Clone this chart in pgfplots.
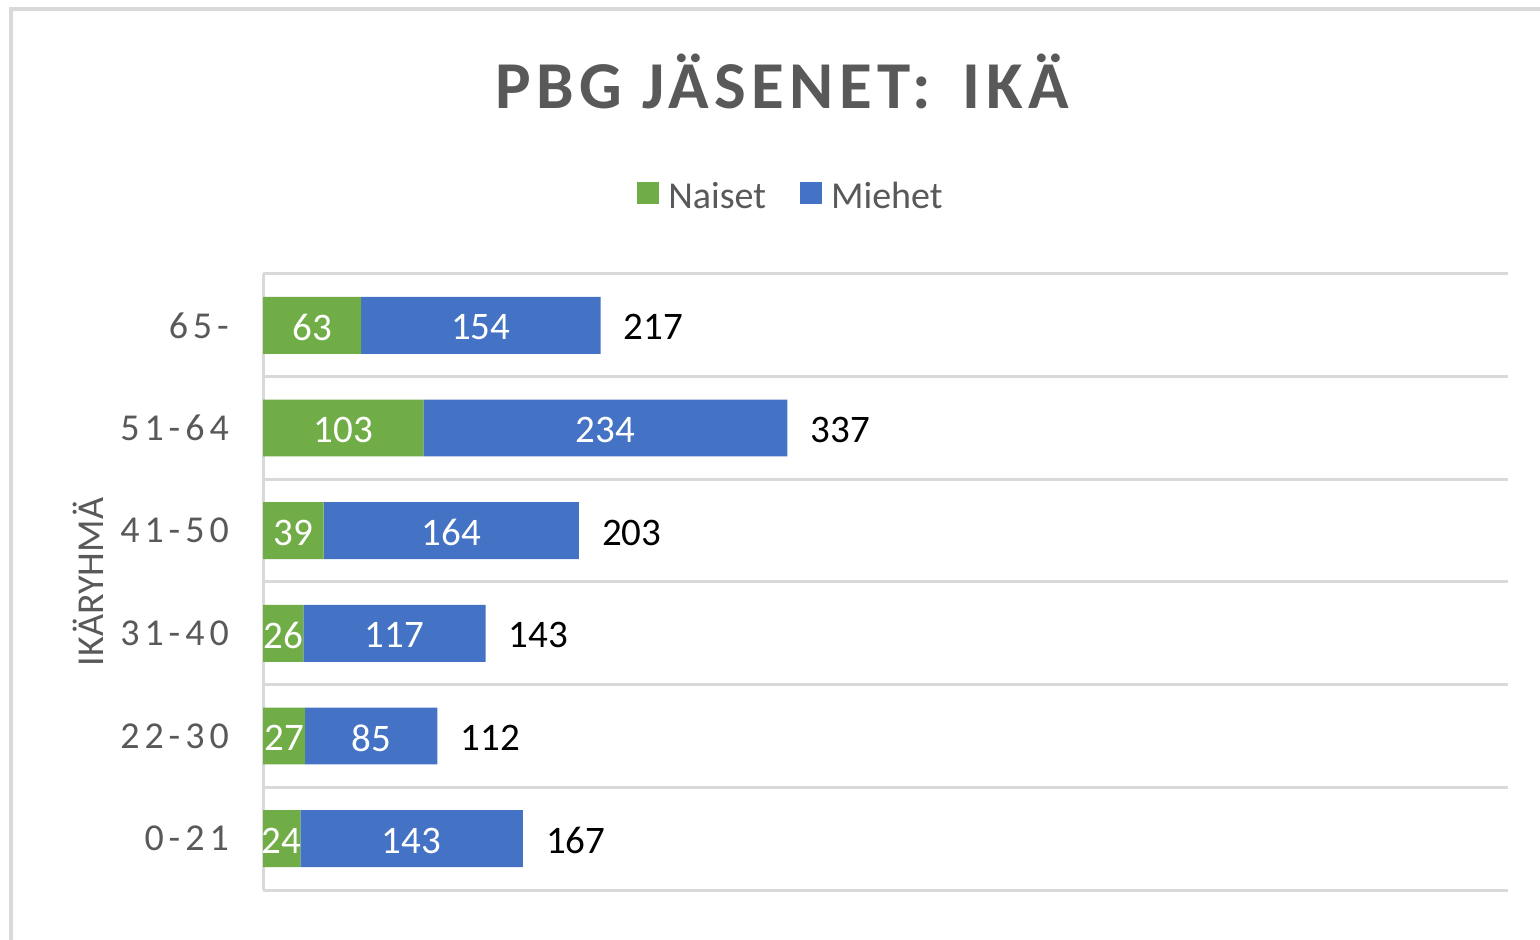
\documentclass[border=0pt]{standalone}
\usepackage{pgfplots}
\pgfplotsset{compat=1.18}
\usepackage{fontspec}
\setmainfont{Carlito}
\newfontfamily\tickfont{Carlito}[LetterSpace=13]
\newfontfamily\titlefont{Carlito}[LetterSpace=8]
\definecolor{cgreen}{HTML}{70AD47}
\definecolor{cblue}{HTML}{4472C4}
\definecolor{cgrid}{HTML}{D9D9D9}
\definecolor{ctext}{HTML}{595959}
\pgfplotsset{mybase/.style={
  at={(263pt,50pt)}, anchor=south west,
  width=1245pt, height=616pt, scale only axis,
  xmin=0, xmax=800, ymin=-0.5, ymax=5.5, clip=false}}
\begin{document}
\begin{tikzpicture}[x=1pt,y=1pt]
\useasboundingbox (0,0) rectangle (1540,940);
\fill[white] (0,0) rectangle (1540,940);
\draw[cgrid, line width=3.5pt] (11,0) -- (11,931) -- (1541,931);
\node[anchor=base, text=ctext, font=\titlefont\bfseries\fontsize{67}{80}\selectfont] at (782,831) {PBG JÄSENET:\hspace{11pt} IKÄ};
\begin{axis}[
  mybase,
  /pgf/number format/assume math mode=true,
  xbar stacked, bar width=0.555,
  axis lines*=left,
  x axis line style={draw=none},
  y axis line style={draw=cgrid, line width=3pt, -},
  xtick=\empty,
  ytick={0,...,5},
  yticklabels={0-21,22-30,31-40,41-50,51-64,65-},
  major tick length=0pt,
  yticklabel style={font=\tickfont\fontsize{38}{45}\selectfont, text=ctext, inner sep=0pt, xshift=-34pt},
  extra y ticks={-0.5,0.5,1.5,2.5,3.5,4.5,5.5},
  extra y tick labels={},
  extra y tick style={grid=major},
  major grid style={draw=cgrid, line width=3pt},
  ylabel={IKÄRYHMÄ},
  ylabel style={at={(axis description cs:-0.1406,0.5)}, anchor=center, font=\fontsize{38}{46}\selectfont, text=ctext},
  legend columns=2,
  legend style={at={(0.4233,1.1266)}, anchor=center, draw=none, fill=none, inner sep=0pt,
    font=\fontsize{38}{46}\selectfont, text=ctext, nodes={inner sep=0pt},
    /tikz/every even column/.append style={column sep=34pt},
    /tikz/every odd column/.append style={column sep=9pt}},
  point meta=rawx,
  nodes near coords,
  nodes near coords style={anchor=center, inner sep=0pt, yshift=-2pt, text=white, font=\fontsize{39}{46}\selectfont},
]
\addplot[fill=cgreen, draw=none,
  legend image code/.code={\fill[cgreen] (0pt,-8pt) rectangle (22pt,14pt);}]
  coordinates {(24,0) (27,1) (26,2) (39,3) (103,4) (63,5)};
\addlegendentry{Naiset}
\addplot[fill=cblue, draw=none,
  legend image code/.code={\fill[cblue] (0pt,-8pt) rectangle (22pt,14pt);}]
  coordinates {(143,0) (85,1) (117,2) (164,3) (234,4) (154,5)};
\addlegendentry{Miehet}
\end{axis}
\begin{axis}[mybase, hide axis]
\addplot[draw=none, mark=none, point meta=explicit symbolic, nodes near coords,
  nodes near coords style={anchor=west, inner sep=0pt, xshift=23pt, yshift=-2pt, text=black, font=\fontsize{39}{46}\selectfont}]
  coordinates {(167,0) [167] (112,1) [112] (143,2) [143] (203,3) [203] (337,4) [337] (217,5) [217]};
\end{axis}
\end{tikzpicture}
\end{document}
